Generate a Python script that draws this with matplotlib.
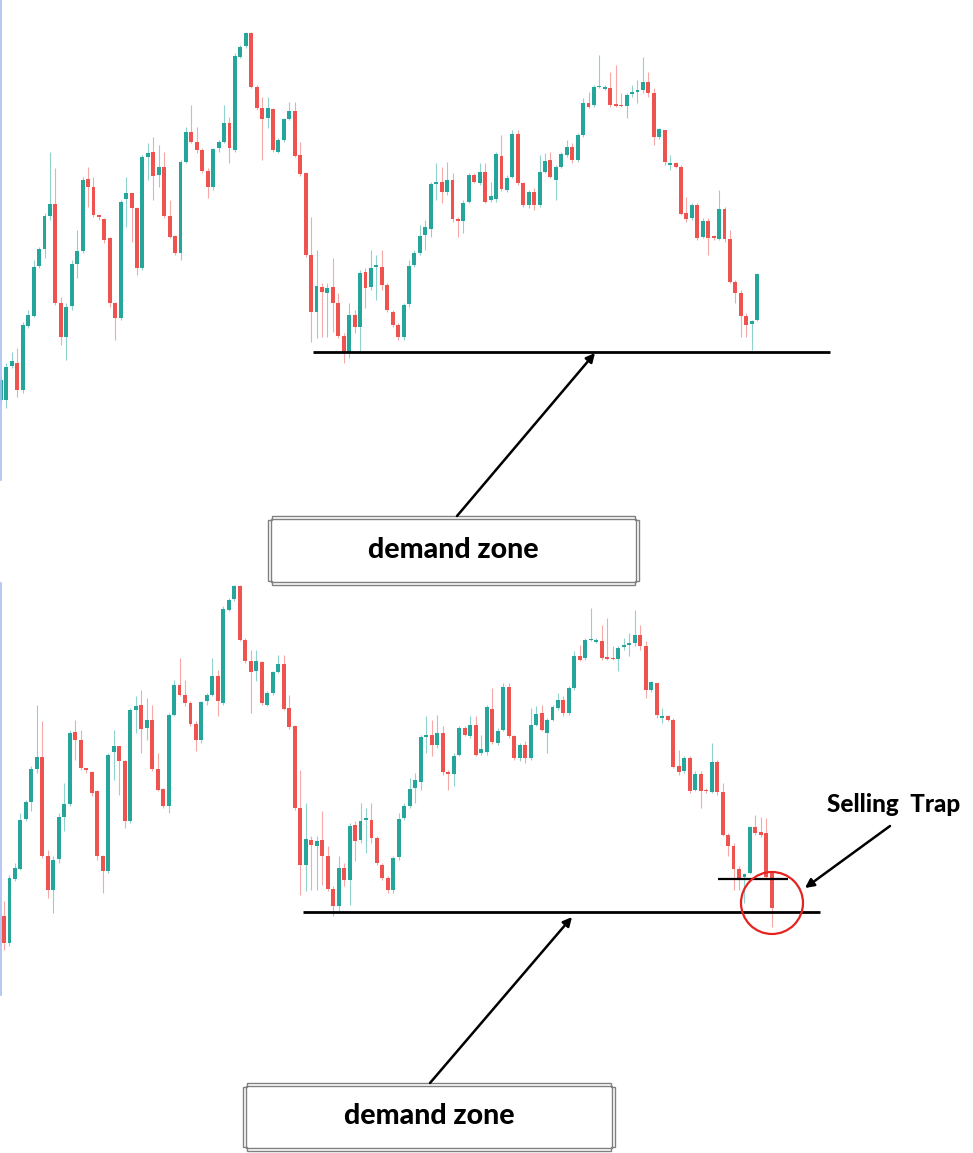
import matplotlib
matplotlib.use("Agg")
import matplotlib.pyplot as plt
from matplotlib.patches import Circle, Polygon, Rectangle
import numpy as np

# OHLC (arbitrary price points), candles 1..144
opens = [0, 0, 34, 37, 10, 74, 84, 134, 151, 184, 196, 97, 63, 94, 136, 149, 221, 213, 185, 181,
         162, 97, 82, 201, 207, 192, 132, 243, 248, 225, 233, 184, 164, 147, 238, 268, 258, 250, 229, 213,
         252, 258, 277, 250, 343, 354, 367, 313, 292, 282, 291, 248, 260, 281, 289, 245, 227, 145, 88, 113,
         107, 113, 97, 64, 47, 85, 73, 128, 113, 133, 133, 115, 88, 75, 63, 96, 135, 147, 165, 171,
         216, 218, 208, 220, 181, 179, 198, 225, 217, 228, 200, 201, 244, 210, 223, 266, 217, 195, 208, 195,
         228, 240, 220, 233, 245, 253, 240, 265, 297, 295, 313, 311, 312, 296, 295, 294, 306, 308, 310, 318,
         307, 263, 270, 235, 237, 233, 187, 182, 195, 163, 179, 163, 161, 191, 161, 118, 107, 84, 76, 80,
         126, 121, 120, 80]
highs = [23, 37, 48, 52, 78, 90, 140, 153, 187, 248, 232, 103, 97, 140, 170, 223, 233, 223, 185, 182,
         163, 98, 200, 223, 207, 193, 245, 257, 263, 255, 248, 200, 165, 240, 273, 295, 273, 252, 232, 252,
         260, 295, 283, 347, 355, 368, 368, 315, 303, 303, 292, 262, 282, 298, 298, 258, 228, 183, 150, 117,
         117, 142, 107, 67, 97, 90, 130, 132, 150, 145, 150, 117, 90, 77, 97, 140, 150, 175, 180, 218,
         237, 233, 238, 227, 183, 200, 227, 227, 237, 237, 218, 248, 265, 225, 270, 270, 218, 210, 212, 245,
         247, 248, 235, 248, 260, 257, 267, 302, 308, 315, 345, 315, 328, 335, 307, 307, 315, 320, 343, 328,
         312, 272, 270, 245, 238, 235, 203, 197, 197, 182, 182, 165, 210, 193, 170, 120, 110, 87, 80, 127,
         138, 136, 135, 81]
lows = [-3, -8, 32, 3, 7, 72, 83, 132, 142, 180, 95, 55, 40, 90, 122, 147, 193, 183, 180, 157,
        93, 60, 80, 173, 158, 125, 130, 220, 200, 213, 182, 162, 145, 140, 237, 257, 247, 227, 202, 210,
        248, 257, 237, 248, 342, 352, 312, 290, 240, 272, 248, 247, 258, 280, 243, 224, 143, 58, 62, 63,
        63, 68, 62, 37, 42, 67, 48, 92, 110, 100, 110, 88, 73, 60, 60, 93, 133, 145, 150, 163,
        200, 197, 205, 178, 163, 167, 197, 217, 215, 197, 198, 198, 209, 208, 222, 215, 193, 192, 190, 193,
        227, 222, 200, 232, 243, 237, 238, 263, 292, 293, 312, 310, 293, 293, 293, 282, 303, 297, 307, 303,
        255, 261, 235, 230, 232, 185, 178, 180, 160, 162, 145, 160, 160, 158, 117, 97, 63, 63, 50, 79,
        118, 116, 75, 26]
closes = [20, 33, 39, 10, 75, 85, 133, 151, 184, 196, 97, 63, 93, 136, 149, 220, 213, 185, 183, 160,
          97, 82, 198, 207, 192, 132, 243, 247, 224, 233, 184, 163, 147, 238, 268, 258, 250, 229, 213, 251,
          258, 277, 252, 344, 353, 367, 313, 292, 281, 292, 250, 260, 281, 289, 244, 226, 145, 88, 114, 108,
          112, 97, 64, 47, 85, 73, 127, 112, 132, 135, 115, 90, 75, 63, 95, 134, 147, 164, 173, 216,
          218, 208, 220, 181, 179, 197, 225, 218, 228, 198, 204, 246, 211, 222, 266, 217, 195, 208, 195, 228,
          239, 223, 233, 246, 253, 240, 265, 297, 293, 313, 314, 313, 295, 294, 294, 305, 308, 310, 318, 307,
          263, 271, 238, 237, 233, 186, 181, 195, 162, 179, 162, 162, 191, 161, 118, 107, 84, 75, 79, 126,
          120, 118, 76, 45]

top_count = 140          # the upper chart stops at the big green candle
demand_top = 48
demand_bottom = 41
trap_level = 74
label_text = "demand zone"
trap_text = "Selling  Trap"

GREEN = "#26a69a"
RED = "#ef5350"
W, H = 973, 1153
FONT = ["Lato", "DejaVu Sans"]

fig = plt.figure(figsize=(W / 100, H / 100), dpi=100)


def px_axes(left, top, width, height):
    return fig.add_axes([left / W, 1 - (top + height) / H, width / W, height / H])


def draw_candles(ax, n):
    x = np.arange(1, n + 1)
    o = np.array(opens[:n], float)
    h = np.array(highs[:n], float)
    l = np.array(lows[:n], float)
    c = np.array(closes[:n], float)
    col = np.where(c >= o, GREEN, RED)
    ax.vlines(x, l, h, colors=col, lw=0.8, alpha=0.5)
    ax.bar(x, np.maximum(np.abs(c - o), 1.5), bottom=np.minimum(o, c), width=0.72,
           color=col, linewidth=0)
    ax.axis("off")


# upper chart
ax1 = px_axes(0, 0, W, 480)
draw_candles(ax1, top_count)
ax1.set_xlim(4.44 / 5.44, (W + 4.44) / 5.44)
ax1.set_ylim(-80, 400)
ax1.hlines(demand_top, 58.4, 153.4, color="black", lw=2)

# lower chart
ax2 = px_axes(0, 583, W, 412)
draw_candles(ax2, len(opens))
ax2.set_xlim(17.94 / 5.485, (W + 17.94) / 5.485)
ax2.set_ylim(-42, 370)
ax2.hlines(demand_bottom, 58.5, 152.8, color="black", lw=2)
ax2.hlines(trap_level, 134.2, 146.9, color="black", lw=1.6)

# overlay in pixel coords for the notes
ov = fig.add_axes([0, 0, 1, 1])
ov.set_xlim(0, W)
ov.set_ylim(H, 0)
ov.axis("off")
ov.patch.set_alpha(0)

ov.plot([1, 1], [0, 480], color="#a9bff0", lw=1.2)
ov.plot([1, 1], [583, 995], color="#a9bff0", lw=1.2)


def label_box(x0, y0, x1, y1, text):
    n = 4
    pts = [(x0 + n, y0), (x1 - n, y0), (x1 - n, y0 + n), (x1, y0 + n), (x1, y1 - n),
           (x1 - n, y1 - n), (x1 - n, y1), (x0 + n, y1), (x0 + n, y1 - n), (x0, y1 - n),
           (x0, y0 + n), (x0 + n, y0 + n)]
    ov.add_patch(Polygon(pts, closed=True, fill=False, ec="#808080", lw=1))
    ov.add_patch(Rectangle((x0 + 3, y0 + 3), x1 - x0 - 6, y1 - y0 - 6, fill=False,
                           ec="#808080", lw=1))
    ov.text((x0 + x1) / 2, (y0 + y1) / 2 - 1, text, ha="center", va="center",
            fontsize=20.5, fontweight="black", family=FONT, color="black")


arrow = dict(arrowstyle="-|>", color="black", lw=1.8, mutation_scale=13, shrinkA=0, shrinkB=0)

label_box(268, 516, 639, 585, label_text)
ov.annotate("", xy=(595, 353), xytext=(457, 516), arrowprops=arrow)

label_box(243, 1083, 615, 1151, label_text)
ov.annotate("", xy=(572, 917), xytext=(430, 1083), arrowprops=arrow)

ov.add_patch(Circle((772, 903), 31, fill=False, ec="#e52421", lw=1.6))
ov.annotate("", xy=(805, 888), xytext=(890, 826), arrowprops=arrow)
ov.text(894, 805, trap_text, ha="center", va="center", fontsize=17.5, fontweight="black",
        family=FONT, color="black")

fig.savefig("out.png", dpi=100)
